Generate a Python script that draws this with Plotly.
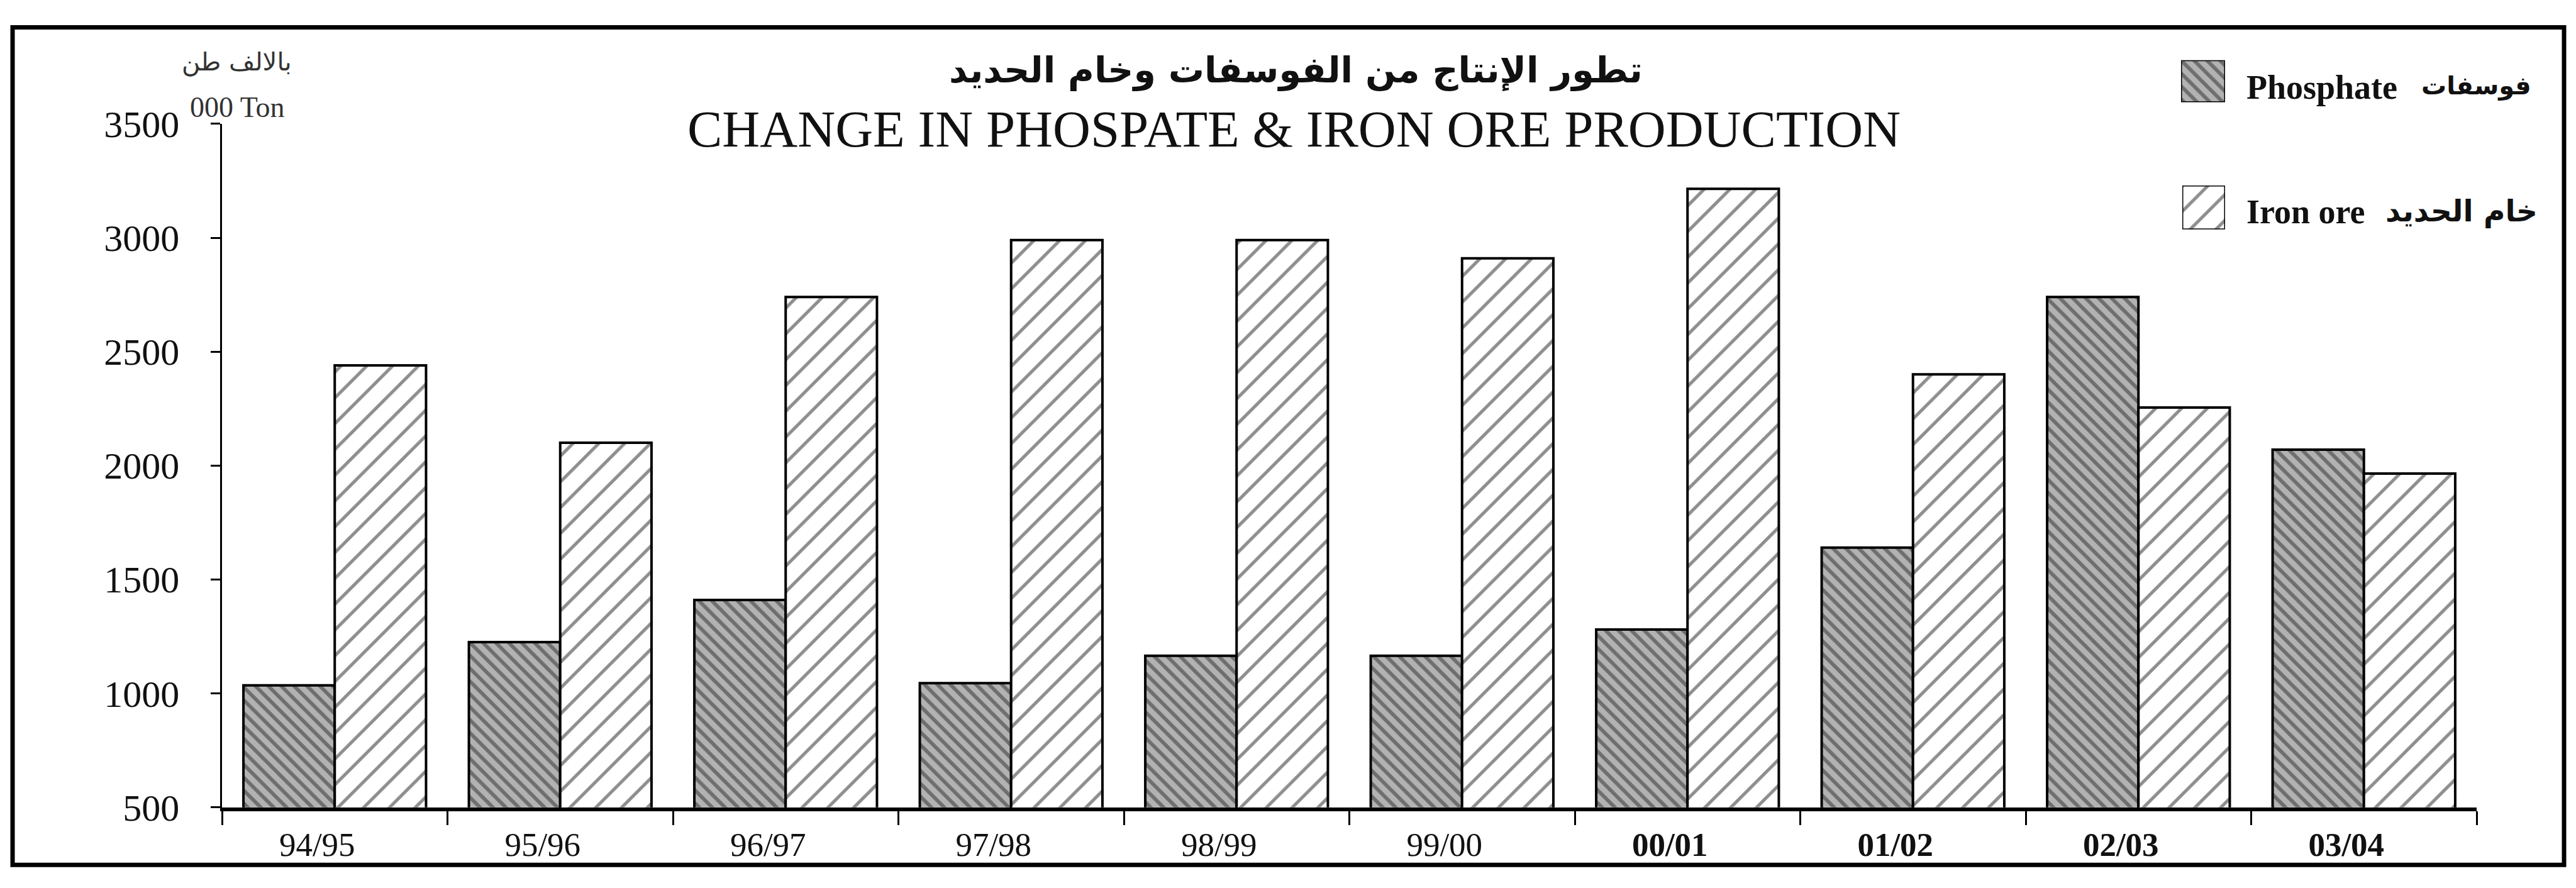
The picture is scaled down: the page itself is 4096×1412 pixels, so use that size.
import plotly.graph_objects as go

# ---- data -------------------------------------------------------------
years = ["94/95", "95/96", "96/97", "97/98", "98/99",
         "99/00", "00/01", "01/02", "02/03", "03/04"]
year_labels = ["94/95", "95/96", "96/97", "97/98", "98/99",
               "99/00", "<b>00/01</b>", "<b>01/02</b>", "<b>02/03</b>", "<b>03/04</b>"]
phosphate = [1035, 1225, 1410, 1045, 1165, 1165, 1280, 1640, 2740, 2070]
iron_ore = [2440, 2100, 2740, 2990, 2990, 2910, 3215, 2400, 2255, 1965]
y_ticks = [500, 1000, 1500, 2000, 2500, 3000, 3500]
legend_key = [1]

# ---- canvas helpers (pixel -> paper fraction) -------------------------
W, H = 4096, 1412


def fx(px):
    return px / W


def fy(py):
    return 1 - py / H


PLOT_L, PLOT_R, PLOT_T, PLOT_B = 353, 3938, 173, 1313

SERIF = "Liberation Serif, Times New Roman, serif"
ARABIC = "DejaVu Sans, sans-serif"

phos_marker = dict(
    color="#b2b2b2",
    line=dict(color="black", width=4),
    pattern=dict(shape="\\", fgcolor="#2a2a2a", bgcolor="#b2b2b2",
                 size=14.5, solidity=0.4),
)
iron_marker = dict(
    color="white",
    line=dict(color="black", width=4),
    pattern=dict(shape="/", fgcolor="#1e1e1e", bgcolor="white",
                 size=29, solidity=0.18),
)

fig = go.Figure()
fig.add_trace(go.Bar(x=years, y=phosphate, name="Phosphate",
                     marker=phos_marker, xaxis="x", yaxis="y"))
fig.add_trace(go.Bar(x=years, y=iron_ore, name="Iron ore",
                     marker=iron_marker, xaxis="x", yaxis="y"))

# legend keys drawn as single bars in their own small axes
swatch_phos = dict(phos_marker, line=dict(color="black", width=3))
swatch_iron = dict(iron_marker, line=dict(color="black", width=3))
fig.add_trace(go.Bar(x=["k"], y=legend_key, width=[1], offset=-0.5,
                     marker=swatch_phos, cliponaxis=False,
                     xaxis="x2", yaxis="y2", showlegend=False))
fig.add_trace(go.Bar(x=["k"], y=legend_key, width=[1], offset=-0.5,
                     marker=swatch_iron, cliponaxis=False,
                     xaxis="x3", yaxis="y3", showlegend=False))

hidden = dict(visible=False, fixedrange=True)

annotations = [
    dict(x=fx(2060), y=fy(84), text="<b>تطور الإنتاج من الفوسفات وخام الحديد</b>",
         font=dict(family=ARABIC, size=57, color="#111")),
    dict(x=fx(2057), y=fy(182), text="CHANGE IN PHOSPATE &amp; IRON ORE PRODUCTION",
         font=dict(family=SERIF, size=83, color="#111")),
    dict(x=fx(376), y=fy(70), text="بالالف طن",
         font=dict(family=ARABIC, size=40, color="#333")),
    dict(x=fx(377), y=fy(145), text="000 Ton",
         font=dict(family=SERIF, size=46, color="#333")),
    dict(x=fx(3570), y=fy(112), text="<b>Phosphate</b>", xanchor="left",
         font=dict(family=SERIF, size=54, color="#111")),
    dict(x=fx(4027), y=fy(110), text="<b>فوسفات</b>", xanchor="right",
         font=dict(family=ARABIC, size=40, color="#111")),
    dict(x=fx(3570), y=fy(320), text="<b>Iron ore</b>", xanchor="left",
         font=dict(family=SERIF, size=54, color="#111")),
    dict(x=fx(4037), y=fy(318), text="<b>خام الحديد</b>", xanchor="right",
         font=dict(family=ARABIC, size=47, color="#111")),
]
for a in annotations:
    a.setdefault("xanchor", "center")
    a.update(xref="paper", yref="paper", yanchor="middle", showarrow=False)

fig.update_layout(
    width=W, height=H,
    margin=dict(l=0, r=0, t=0, b=0),
    paper_bgcolor="white", plot_bgcolor="white",
    barmode="group", bargap=0.19, bargroupgap=0,
    showlegend=False,
    font=dict(family=SERIF, color="#111"),
    xaxis=dict(
        domain=[fx(PLOT_L), fx(PLOT_R)], anchor="y",
        type="category", range=[-0.5, 9.5],
        tickmode="array", tickvals=years, ticktext=year_labels,
        tickson="boundaries", ticks="outside", ticklen=22,
        tickwidth=2.5, tickcolor="black",
        ticklabelshift=-28, ticklabelstandoff=8,
        tickfont=dict(family=SERIF, size=53, color="#111"),
        showline=True, linecolor="black", linewidth=6,
        showgrid=False, zeroline=False,
    ),
    yaxis=dict(
        domain=[fy(PLOT_B), fy(PLOT_T)], anchor="x",
        range=[500, 3500], tickmode="array", tickvals=y_ticks,
        ticks="outside", ticklen=15, tickwidth=2.5, tickcolor="black",
        ticklabelstandoff=38,
        tickfont=dict(family=SERIF, size=60, color="#111"),
        showline=True, linecolor="black", linewidth=2.5,
        showgrid=False, zeroline=False,
    ),
    xaxis2=dict(domain=[fx(3468), fx(3538)], anchor="y2", range=[-0.5, 0.5], **hidden),
    yaxis2=dict(domain=[fy(137), fy(67)], anchor="x2", range=[0, 1], **hidden),
    xaxis3=dict(domain=[fx(3470), fx(3538)], anchor="y3", range=[-0.5, 0.5], **hidden),
    yaxis3=dict(domain=[fy(349), fy(276)], anchor="x3", range=[0, 1], **hidden),
    annotations=annotations,
    shapes=[dict(type="rect", xref="paper", yref="paper",
                 x0=fx(20), x1=fx(4077), y0=fy(1409), y1=fy(12),
                 line=dict(color="black", width=7))],
)

fig.write_html("out.html")
